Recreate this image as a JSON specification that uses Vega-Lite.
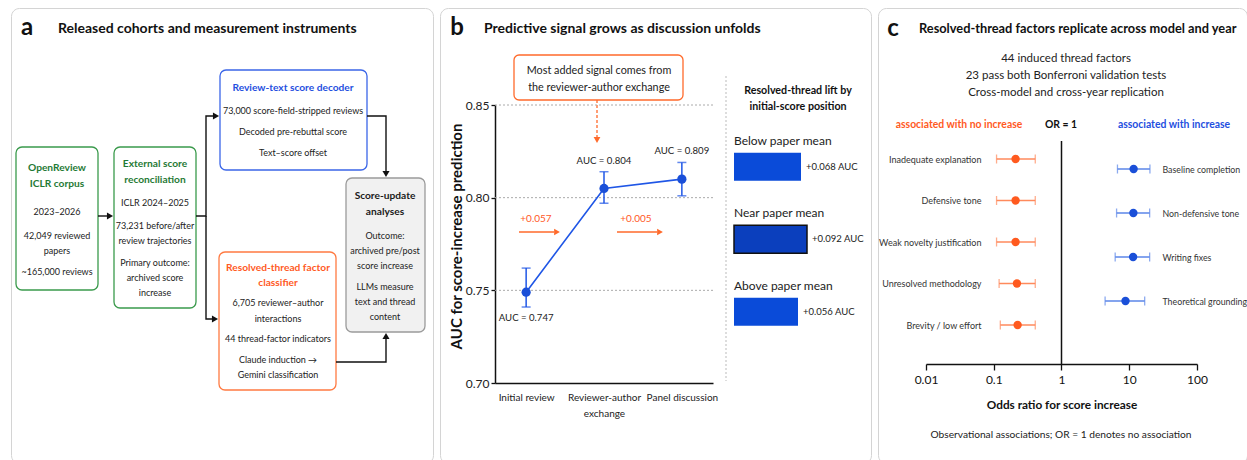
{
"$schema":"https://vega.github.io/schema/vega-lite/v6.json",
"padding":{"left":10,"top":7,"right":0,"bottom":0},
"background":"white",
"config":{"font":"Lato","view":{"stroke":"#d4d4d4","strokeWidth":1,"cornerRadius":8},"text":{"baseline":"middle"}},
"spacing":7,
"bounds":"flush",
"resolve":{"scale":{"color":"independent","stroke":"independent","shape":"independent","fill":"independent"}},
"hconcat":[
{
"width":422,"height":455,
"encoding":{"x":{"field":"gx","type":"quantitative","scale":{"domain":[10,432],"range":[0,422],"nice":false,"zero":false},"axis":null},
"y":{"field":"gy","type":"quantitative","scale":{"domain":[7,462],"range":[0,455],"nice":false,"zero":false},"axis":null}},
"layer":[
{"data":{"values":[
{"node":"OpenReview ICLR corpus","group":"cohort","gx":15,"gx2":97,"gy":146,"gy2":289},
{"node":"External score reconciliation","group":"cohort","gx":113,"gx2":195,"gy":146,"gy2":307},
{"node":"Review-text score decoder","group":"decoder","gx":219,"gx2":366,"gy":69,"gy2":169},
{"node":"Resolved-thread factor classifier","group":"classifier","gx":218,"gx2":335,"gy":251,"gy2":389},
{"node":"Score-update analyses","group":"analysis","gx":345,"gx2":424,"gy":177,"gy2":331}]},
"mark":{"type":"rect","cornerRadius":6,"strokeWidth":1.3},
"encoding":{"x2":{"field":"gx2"},"y2":{"field":"gy2"},
"stroke":{"field":"group","type":"nominal","scale":{"domain":["cohort","decoder","classifier","analysis"],"range":["#3a9a4c","#3b66e8","#ff7a42","#9b9b9b"]},"legend":null},
"fill":{"condition":{"test":"datum.group==='analysis'","value":"#f1f1f1"},"value":"#ffffff"}}},
{"data":{"values":[
{"path":"p1","step":0,"gx":97,"gy":215},{"path":"p1","step":1,"gx":106,"gy":215},
{"path":"p2","step":0,"gx":195,"gy":215},{"path":"p2","step":1,"gx":205,"gy":215},{"path":"p2","step":2,"gx":205,"gy":115},{"path":"p2","step":3,"gx":212,"gy":115},
{"path":"p3","step":0,"gx":205,"gy":215},{"path":"p3","step":1,"gx":205,"gy":318},{"path":"p3","step":2,"gx":212,"gy":318},
{"path":"p4","step":0,"gx":366,"gy":115},{"path":"p4","step":1,"gx":385,"gy":115},{"path":"p4","step":2,"gx":385,"gy":170},
{"path":"p5","step":0,"gx":335,"gy":361},{"path":"p5","step":1,"gx":385,"gy":361},{"path":"p5","step":2,"gx":385,"gy":338}]},
"mark":{"type":"line","color":"#111111","strokeWidth":1.4},
"encoding":{"detail":{"field":"path","type":"nominal"},"order":{"field":"step","type":"quantitative"}}},
{"data":{"values":[
{"gx":109,"gy":215,"dir":"right"},{"gx":215,"gy":115,"dir":"right"},{"gx":214,"gy":318,"dir":"right"},{"gx":385,"gy":173,"dir":"down"},{"gx":385,"gy":335,"dir":"up"}]},
"mark":{"type":"point","filled":true,"color":"#111111","opacity":1,"size":50},
"encoding":{"shape":{"field":"dir","type":"nominal","scale":{"domain":["right","down","up"],"range":["triangle-right","triangle-down","triangle-up"]},"legend":null}}},
{"data":{"values":[
{"group":"cohort","gx":56,"gy":167,"t":"OpenReview"},{"group":"cohort","gx":56,"gy":183,"t":"ICLR corpus"},
{"group":"cohort","gx":154,"gy":163,"t":"External score"},{"group":"cohort","gx":154,"gy":179,"t":"reconciliation"},
{"group":"decoder","gx":292,"gy":87,"t":"Review-text score decoder"},
{"group":"classifier","gx":277,"gy":267,"t":"Resolved-thread factor"},{"group":"classifier","gx":277,"gy":282,"t":"classifier"},
{"group":"analysis","gx":384,"gy":195,"t":"Score-update"},{"group":"analysis","gx":384,"gy":211,"t":"analyses"}]},
"mark":{"type":"text","fontWeight":"bold","fontSize":10.2,"align":"center"},
"encoding":{"text":{"field":"t"},"color":{"field":"group","type":"nominal","scale":{"domain":["cohort","decoder","classifier","analysis"],"range":["#1f7a35","#1f4fe0","#ff5a1f","#1a1a1a"]},"legend":null}}},
{"data":{"values":[
{"gx":56,"gy":211,"t":"2023–2026"},{"gx":56,"gy":235,"t":"42,049 reviewed"},{"gx":56,"gy":250,"t":"papers"},{"gx":56,"gy":271,"t":"~165,000 reviews"},
{"gx":154,"gy":202,"t":"ICLR 2024–2025"},{"gx":154,"gy":225,"t":"73,231 before/after"},{"gx":154,"gy":240,"t":"review trajectories"},{"gx":154,"gy":262,"t":"Primary outcome:"},{"gx":154,"gy":277,"t":"archived score"},{"gx":154,"gy":292,"t":"increase"},
{"gx":292,"gy":110,"t":"73,000 score-field-stripped reviews"},{"gx":292,"gy":131,"t":"Decoded pre-rebuttal score"},{"gx":292,"gy":152,"t":"Text–score offset"},
{"gx":277,"gy":302,"t":"6,705 reviewer–author"},{"gx":277,"gy":318,"t":"interactions"},{"gx":277,"gy":338,"t":"44 thread-factor indicators"},{"gx":277,"gy":359,"t":"Claude induction →"},{"gx":277,"gy":374,"t":"Gemini classification"},
{"gx":384,"gy":235,"t":"Outcome:"},{"gx":384,"gy":250,"t":"archived pre/post"},{"gx":384,"gy":265,"t":"score increase"},{"gx":384,"gy":286,"t":"LLMs measure"},{"gx":384,"gy":301,"t":"text and thread"},{"gx":384,"gy":316,"t":"content"}]},
"mark":{"type":"text","fontSize":9,"align":"center","color":"#222222"},
"encoding":{"text":{"field":"t"}}},
{"data":{"values":[{"gx":26,"gy":27,"t":"a"}]},"mark":{"type":"text","fontWeight":"bold","fontSize":24,"align":"center","color":"#111111"},"encoding":{"text":{"field":"t"}}},
{"data":{"values":[{"gx":57,"gy":28,"t":"Released cohorts and measurement instruments"}]},"mark":{"type":"text","fontWeight":"bold","fontSize":14,"align":"left","color":"#111111"},"encoding":{"text":{"field":"t"}}}
]},
{
"width":431,"height":455,
"resolve":{"scale":{"x":"independent","y":"independent"}},
"layer":[
{"encoding":{"x":{"field":"gx","type":"quantitative","scale":{"domain":[439,870],"range":[0,431],"nice":false,"zero":false},"axis":null},
"y":{"field":"gy","type":"quantitative","scale":{"domain":[7,462],"range":[0,455],"nice":false,"zero":false},"axis":null}},
"layer":[
{"data":{"values":[{"gx":513,"gx2":682,"gy":54,"gy2":99}]},"mark":{"type":"rect","cornerRadius":5,"stroke":"#ff6a2b","strokeWidth":1.3,"fill":"#ffffff"},"encoding":{"x2":{"field":"gx2"},"y2":{"field":"gy2"}}},
{"data":{"values":[{"gx":596,"gy":99,"gx2":596,"gy2":136}]},"mark":{"type":"rule","color":"#ff6a2b","strokeWidth":1.3,"strokeDash":[3,2]},"encoding":{"x2":{"field":"gx2"},"y2":{"field":"gy2"}}},
{"data":{"values":[{"gx":725,"gy":75,"gx2":725,"gy2":380}]},"mark":{"type":"rule","color":"#bbbbbb","strokeWidth":1,"strokeDash":[2,2]},"encoding":{"x2":{"field":"gx2"},"y2":{"field":"gy2"}}},
{"data":{"values":[{"gx":518,"gy":231,"gx2":553,"gy2":231},{"gx":616,"gy":231,"gx2":656,"gy2":231}]},"mark":{"type":"rule","color":"#ff6a2b","strokeWidth":1.6},"encoding":{"x2":{"field":"gx2"},"y2":{"field":"gy2"}}},
{"data":{"values":[{"gx":596,"gy":139,"dir":"down"},{"gx":556,"gy":231,"dir":"right"},{"gx":659,"gy":231,"dir":"right"}]},"mark":{"type":"point","filled":true,"color":"#ff6a2b","opacity":1,"size":45},
"encoding":{"shape":{"field":"dir","type":"nominal","scale":{"domain":["right","down","up"],"range":["triangle-right","triangle-down","triangle-up"]},"legend":null}}},
{"data":{"values":[{"gx":598,"gy":70,"t":"Most added signal comes from"},{"gx":598,"gy":87,"t":"the reviewer-author exchange"}]},"mark":{"type":"text","fontSize":10.8,"align":"center","color":"#222222"},"encoding":{"text":{"field":"t"}}},
{"data":{"values":[{"gx":535,"gy":218,"t":"+0.057"},{"gx":635,"gy":218,"t":"+0.005"}]},"mark":{"type":"text","fontSize":10,"align":"center","color":"#ff5a1f"},"encoding":{"text":{"field":"t"}}},
{"data":{"values":[{"gx":797,"gy":90,"t":"Resolved-thread lift by"},{"gx":797,"gy":106,"t":"initial-score position"}]},"mark":{"type":"text","fontSize":10.7,"fontWeight":"bold","align":"center","color":"#111111"},"encoding":{"text":{"field":"t"}}},
{"data":{"values":[{"gx":456,"gy":27,"t":"b"}]},"mark":{"type":"text","fontWeight":"bold","fontSize":24,"align":"center","color":"#111111"},"encoding":{"text":{"field":"t"}}},
{"data":{"values":[{"gx":483,"gy":28,"t":"Predictive signal grows as discussion unfolds"}]},"mark":{"type":"text","fontWeight":"bold","fontSize":14,"align":"left","color":"#111111"},"encoding":{"text":{"field":"t"}}}
]},
{"data":{"values":[{"auc":0.75},{"auc":0.8},{"auc":0.85}]},
"mark":{"type":"rule","color":"#aaaaaa","strokeWidth":1,"strokeDash":[2,2]},
"encoding":{"x":{"datum":494,"type":"quantitative","scale":{"domain":[439,870],"range":[0,431],"nice":false,"zero":false},"axis":null},"x2":{"datum":712},
"y":{"field":"auc","type":"quantitative","scale":{"domain":[0.7,0.85],"range":[375,97],"nice":false,"zero":false},"axis":null}}},
{"data":{"values":[
{"stage":"Initial review","auc":0.749,"lo":0.741,"hi":0.762,"label":"AUC = 0.747"},
{"stage":"Reviewer-author exchange","auc":0.805,"lo":0.797,"hi":0.814,"label":"AUC = 0.804"},
{"stage":"Panel discussion","auc":0.810,"lo":0.801,"hi":0.819,"label":"AUC = 0.809"}]},
"encoding":{
"x":{"field":"stage","type":"nominal","scale":{"type":"point","domain":["Initial review","Reviewer-author exchange","Panel discussion"],"range":[55,273],"padding":0.4},
"axis":{"orient":"bottom","offset":-80,"domain":true,"domainColor":"#111111","domainWidth":1.5,"ticks":false,"labelPadding":9,"labelFontSize":10,"labelColor":"#222222","labelAngle":0,"labelBaseline":"top","labelExpr":"datum.value==='Reviewer-author exchange' ? ['Reviewer-author','exchange'] : datum.value","labelLineHeight":16,"title":null,"grid":false}},
"y":{"field":"auc","type":"quantitative","scale":{"domain":[0.7,0.85],"range":[375,97],"nice":false,"zero":false},
"axis":{"orient":"left","offset":-55,"values":[0.7,0.75,0.8,0.85],"format":".2f","domain":true,"domainColor":"#111111","domainWidth":1.5,"ticks":true,"tickSize":4,"tickColor":"#111111","tickWidth":1.3,"labelPadding":2,"labelFontSize":12,"labelColor":"#222222","grid":false,"title":"AUC for score-increase prediction","titleFontSize":15,"titleFontWeight":"bold","titleColor":"#111111","titleX":-39,"titleY":228,"titleBaseline":"middle","titleAngle":-90}}},
"layer":[
{"mark":{"type":"line","color":"#1f56e6","strokeWidth":1.6}},
{"mark":{"type":"rule","color":"#1f56e6","strokeWidth":1.5},"encoding":{"y":{"field":"lo","type":"quantitative","scale":{"domain":[0.7,0.85],"range":[375,97],"nice":false,"zero":false},
"axis":{"orient":"left","offset":-55,"values":[0.7,0.75,0.8,0.85],"format":".2f","domain":true,"domainColor":"#111111","domainWidth":1.5,"ticks":true,"tickSize":4,"tickColor":"#111111","tickWidth":1.3,"labelPadding":2,"labelFontSize":12,"labelColor":"#222222","grid":false,"title":"AUC for score-increase prediction","titleFontSize":15,"titleFontWeight":"bold","titleColor":"#111111","titleX":-39,"titleY":228,"titleBaseline":"middle","titleAngle":-90}},"y2":{"field":"hi"}}},
{"mark":{"type":"tick","color":"#1f56e6","thickness":1.5,"size":9},"encoding":{"y":{"field":"lo","type":"quantitative","scale":{"domain":[0.7,0.85],"range":[375,97],"nice":false,"zero":false},
"axis":{"orient":"left","offset":-55,"values":[0.7,0.75,0.8,0.85],"format":".2f","domain":true,"domainColor":"#111111","domainWidth":1.5,"ticks":true,"tickSize":4,"tickColor":"#111111","tickWidth":1.3,"labelPadding":2,"labelFontSize":12,"labelColor":"#222222","grid":false,"title":"AUC for score-increase prediction","titleFontSize":15,"titleFontWeight":"bold","titleColor":"#111111","titleX":-39,"titleY":228,"titleBaseline":"middle","titleAngle":-90}}}},
{"mark":{"type":"tick","color":"#1f56e6","thickness":1.5,"size":9},"encoding":{"y":{"field":"hi","type":"quantitative","scale":{"domain":[0.7,0.85],"range":[375,97],"nice":false,"zero":false},
"axis":{"orient":"left","offset":-55,"values":[0.7,0.75,0.8,0.85],"format":".2f","domain":true,"domainColor":"#111111","domainWidth":1.5,"ticks":true,"tickSize":4,"tickColor":"#111111","tickWidth":1.3,"labelPadding":2,"labelFontSize":12,"labelColor":"#222222","grid":false,"title":"AUC for score-increase prediction","titleFontSize":15,"titleFontWeight":"bold","titleColor":"#111111","titleX":-39,"titleY":228,"titleBaseline":"middle","titleAngle":-90}}}},
{"mark":{"type":"circle","color":"#1a4fd8","size":85,"opacity":1},"encoding":{}},
{"transform":[{"filter":"datum.stage==='Initial review'"}],"mark":{"type":"text","fontSize":9.6,"color":"#222222","dy":11,"align":"center"},"encoding":{"y":{"field":"lo","type":"quantitative","scale":{"domain":[0.7,0.85],"range":[375,97],"nice":false,"zero":false},
"axis":{"orient":"left","offset":-55,"values":[0.7,0.75,0.8,0.85],"format":".2f","domain":true,"domainColor":"#111111","domainWidth":1.5,"ticks":true,"tickSize":4,"tickColor":"#111111","tickWidth":1.3,"labelPadding":2,"labelFontSize":12,"labelColor":"#222222","grid":false,"title":"AUC for score-increase prediction","titleFontSize":15,"titleFontWeight":"bold","titleColor":"#111111","titleX":-39,"titleY":228,"titleBaseline":"middle","titleAngle":-90}},"text":{"field":"label"}}},
{"transform":[{"filter":"datum.stage!=='Initial review'"}],"mark":{"type":"text","fontSize":9.6,"color":"#222222","dy":-11,"align":"center"},"encoding":{"y":{"field":"hi","type":"quantitative","scale":{"domain":[0.7,0.85],"range":[375,97],"nice":false,"zero":false},
"axis":{"orient":"left","offset":-55,"values":[0.7,0.75,0.8,0.85],"format":".2f","domain":true,"domainColor":"#111111","domainWidth":1.5,"ticks":true,"tickSize":4,"tickColor":"#111111","tickWidth":1.3,"labelPadding":2,"labelFontSize":12,"labelColor":"#222222","grid":false,"title":"AUC for score-increase prediction","titleFontSize":15,"titleFontWeight":"bold","titleColor":"#111111","titleX":-39,"titleY":228,"titleBaseline":"middle","titleAngle":-90}},"text":{"field":"label"}}}
]},
{"data":{"values":[
{"group":"Below paper mean","lift":0.068,"label":"+0.068 AUC"},
{"group":"Near paper mean","lift":0.092,"label":"+0.092 AUC"},
{"group":"Above paper mean","lift":0.056,"label":"+0.056 AUC"}]},
"encoding":{
"y":{"field":"group","type":"nominal","scale":{"type":"band","domain":["Below paper mean","Near paper mean","Above paper mean"],"range":[122.55,340.05],"paddingInner":0.614,"paddingOuter":0.307},"axis":null},
"x":{"field":"lift","type":"quantitative","scale":{"domain":[-0.2,0.1],"range":[294,369],"nice":false,"zero":false},"axis":null}},
"layer":[
{"mark":{"type":"bar","strokeWidth":1.5},"encoding":{"x2":{"datum":-0.2},
"fill":{"condition":{"test":"datum.group==='Near paper mean'","value":"#0b3fbd"},"value":"#0a4bd9"},
"stroke":{"condition":{"test":"datum.group==='Near paper mean'","value":"#111111"},"value":"transparent"}}},
{"mark":{"type":"text","fontSize":12,"color":"#222222","align":"left","dy":-26},"encoding":{"x":{"datum":-0.2,"type":"quantitative","scale":{"domain":[-0.2,0.1],"range":[294,369],"nice":false,"zero":false},"axis":null},"text":{"field":"group"}}},
{"mark":{"type":"text","fontSize":9.5,"color":"#222222","align":"left","dx":5},"encoding":{"text":{"field":"label"}}}
]}
]},
{
"width":369,"height":455,
"resolve":{"scale":{"x":"independent","y":"independent"}},
"layer":[
{"encoding":{"x":{"field":"gx","type":"quantitative","scale":{"domain":[877,1246],"range":[0,369],"nice":false,"zero":false},"axis":null},
"y":{"field":"gy","type":"quantitative","scale":{"domain":[7,462],"range":[0,455],"nice":false,"zero":false},"axis":null}},
"layer":[
{"data":{"values":[{"gx":892,"gy":28,"t":"c"}]},"mark":{"type":"text","fontWeight":"bold","fontSize":24,"align":"center","color":"#111111"},"encoding":{"text":{"field":"t"}}},
{"data":{"values":[{"gx":918,"gy":28,"t":"Resolved-thread factors replicate across model and year"}]},"mark":{"type":"text","fontWeight":"bold","fontSize":12.8,"align":"left","color":"#111111"},"encoding":{"text":{"field":"t"}}},
{"data":{"values":[{"gx":1065,"gy":58,"t":"44 induced thread factors"},{"gx":1065,"gy":75,"t":"23 pass both Bonferroni validation tests"},{"gx":1065,"gy":92,"t":"Cross-model and cross-year replication"}]},"mark":{"type":"text","fontSize":11.5,"align":"center","color":"#222222"},"encoding":{"text":{"field":"t"}}},
{"data":{"values":[{"gx":1060,"gy":434,"t":"Observational associations; OR = 1 denotes no association"}]},"mark":{"type":"text","fontSize":10.2,"align":"center","color":"#222222"},"encoding":{"text":{"field":"t"}}},
{"data":{"values":[{"gx":958,"gy":124,"side":"no increase","t":"associated with no increase"},{"gx":1060,"gy":124,"side":"null","t":"OR = 1"},{"gx":1173,"gy":124,"side":"increase","t":"associated with increase"}]},
"mark":{"type":"text","fontSize":10.4,"fontWeight":"bold","align":"center"},
"encoding":{"text":{"field":"t"},"color":{"field":"side","type":"nominal","scale":{"domain":["no increase","null","increase"],"range":["#ff5a1f","#111111","#1f4fe0"]},"legend":null}}}
]},
{"data":{"values":[{"ref":1}]},"mark":{"type":"rule","color":"#111111","strokeWidth":1.5},
"encoding":{"x":{"field":"ref","type":"quantitative","scale":{"type":"log","domain":[0.01,100],"range":[48,319],"nice":false},"axis":null},
"y":{"datum":140,"type":"quantitative","scale":{"domain":[7,462],"range":[0,455],"nice":false,"zero":false},"axis":null},"y2":{"datum":363}}},
{"data":{"values":[
{"factor":"Inadequate explanation","or":0.21,"lo":0.11,"hi":0.41},
{"factor":"Defensive tone","or":0.21,"lo":0.11,"hi":0.41},
{"factor":"Weak novelty justification","or":0.21,"lo":0.11,"hi":0.41},
{"factor":"Unresolved methodology","or":0.22,"lo":0.12,"hi":0.41},
{"factor":"Brevity / low effort","or":0.225,"lo":0.125,"hi":0.41}]},
"encoding":{
"y":{"field":"factor","type":"nominal","scale":{"type":"point","domain":["Inadequate explanation","Defensive tone","Weak novelty justification","Unresolved methodology","Brevity / low effort"],"range":[151,317],"padding":0},
"axis":{"orient":"left","offset":-103,"domain":false,"ticks":false,"tickSize":0,"labelPadding":0,"labelFontSize":9,"labelColor":"#333333","title":null,"grid":false}},
"x":{"field":"or","type":"quantitative","scale":{"type":"log","domain":[0.01,100],"range":[48,319],"nice":false},
"axis":{"orient":"bottom","offset":-99,"values":[0.01,0.1,1,10,100],"format":"~g","domain":true,"domainColor":"#111111","domainWidth":1.5,"ticks":true,"tickColor":"#111111","tickWidth":1.3,"tickSize":6,"labelFontSize":12,"labelColor":"#111111","labelPadding":4,"labelFlush":false,"labelOverlap":false,"grid":false,"title":"Odds ratio for score increase","titleFontSize":11.8,"titleFontWeight":"bold","titleColor":"#111111","titleY":40,"titleBaseline":"middle"}}},
"layer":[
{"mark":{"type":"rule","color":"#ff8a5c","strokeWidth":1.3},"encoding":{"x":{"field":"lo","type":"quantitative","scale":{"type":"log","domain":[0.01,100],"range":[48,319],"nice":false},
"axis":{"orient":"bottom","offset":-99,"values":[0.01,0.1,1,10,100],"format":"~g","domain":true,"domainColor":"#111111","domainWidth":1.5,"ticks":true,"tickColor":"#111111","tickWidth":1.3,"tickSize":6,"labelFontSize":12,"labelColor":"#111111","labelPadding":4,"labelFlush":false,"labelOverlap":false,"grid":false,"title":"Odds ratio for score increase","titleFontSize":11.8,"titleFontWeight":"bold","titleColor":"#111111","titleY":40,"titleBaseline":"middle"}},"x2":{"field":"hi"}}},
{"mark":{"type":"tick","color":"#ff8a5c","thickness":1.3,"size":9},"encoding":{"x":{"field":"lo","type":"quantitative","scale":{"type":"log","domain":[0.01,100],"range":[48,319],"nice":false},
"axis":{"orient":"bottom","offset":-99,"values":[0.01,0.1,1,10,100],"format":"~g","domain":true,"domainColor":"#111111","domainWidth":1.5,"ticks":true,"tickColor":"#111111","tickWidth":1.3,"tickSize":6,"labelFontSize":12,"labelColor":"#111111","labelPadding":4,"labelFlush":false,"labelOverlap":false,"grid":false,"title":"Odds ratio for score increase","titleFontSize":11.8,"titleFontWeight":"bold","titleColor":"#111111","titleY":40,"titleBaseline":"middle"}}}},
{"mark":{"type":"tick","color":"#ff8a5c","thickness":1.3,"size":9},"encoding":{"x":{"field":"hi","type":"quantitative","scale":{"type":"log","domain":[0.01,100],"range":[48,319],"nice":false},
"axis":{"orient":"bottom","offset":-99,"values":[0.01,0.1,1,10,100],"format":"~g","domain":true,"domainColor":"#111111","domainWidth":1.5,"ticks":true,"tickColor":"#111111","tickWidth":1.3,"tickSize":6,"labelFontSize":12,"labelColor":"#111111","labelPadding":4,"labelFlush":false,"labelOverlap":false,"grid":false,"title":"Odds ratio for score increase","titleFontSize":11.8,"titleFontWeight":"bold","titleColor":"#111111","titleY":40,"titleBaseline":"middle"}}}},
{"mark":{"type":"circle","color":"#ff5a1f","size":70,"opacity":1},"encoding":{}}
]},
{"data":{"values":[
{"factor":"Baseline completion","or":11.6,"lo":6.7,"hi":20.2},
{"factor":"Non-defensive tone","or":11.5,"lo":6.5,"hi":20},
{"factor":"Writing fixes","or":11.4,"lo":6.2,"hi":20},
{"factor":"Theoretical grounding","or":8.8,"lo":4.4,"hi":16.9}]},
"encoding":{
"y":{"field":"factor","type":"nominal","scale":{"type":"point","domain":["Baseline completion","Non-defensive tone","Writing fixes","Theoretical grounding"],"range":[161,293],"padding":0},
"axis":{"orient":"right","offset":-85,"domain":false,"ticks":false,"tickSize":0,"labelPadding":0,"labelFontSize":8.8,"labelColor":"#333333","title":null,"grid":false}},
"x":{"field":"or","type":"quantitative","scale":{"type":"log","domain":[0.01,100],"range":[48,319],"nice":false},"axis":null}},
"layer":[
{"mark":{"type":"rule","color":"#5b86e8","strokeWidth":1.3},"encoding":{"x":{"field":"lo","type":"quantitative","scale":{"type":"log","domain":[0.01,100],"range":[48,319],"nice":false},"axis":null},"x2":{"field":"hi"}}},
{"mark":{"type":"tick","color":"#5b86e8","thickness":1.3,"size":9},"encoding":{"x":{"field":"lo","type":"quantitative","scale":{"type":"log","domain":[0.01,100],"range":[48,319],"nice":false},"axis":null}}},
{"mark":{"type":"tick","color":"#5b86e8","thickness":1.3,"size":9},"encoding":{"x":{"field":"hi","type":"quantitative","scale":{"type":"log","domain":[0.01,100],"range":[48,319],"nice":false},"axis":null}}},
{"mark":{"type":"circle","color":"#1a4fd8","size":70,"opacity":1},"encoding":{}}
]}
]}
]
}
